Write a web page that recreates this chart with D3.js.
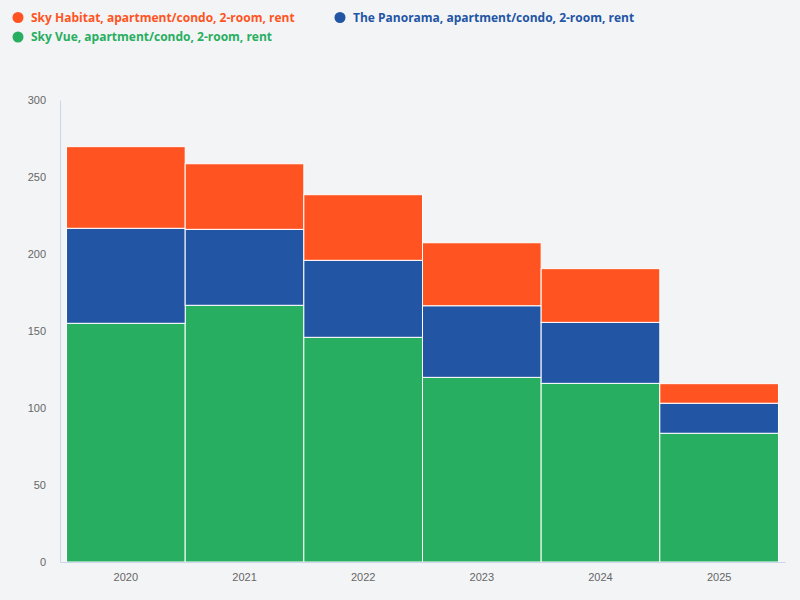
<!DOCTYPE html>
<html>
<head>
<meta charset="utf-8">
<script src="https://cdn.jsdelivr.net/npm/d3@7"></script>
<style>
  body { margin: 0; background: #f3f4f6; }
  svg { display: block; font-family: "Open Sans", "Noto Sans", sans-serif; }
</style>
</head>
<body>
<div id="chart"></div>
<script>
// Data
const years = ["2020", "2021", "2022", "2023", "2024", "2025"];
const skyVue = [155, 166.7, 145.9, 119.9, 116, 83.6];
const panorama = [61.7, 49.3, 50, 46.5, 39.6, 19.5];
const skyHabitat = [53, 42.6, 42.6, 40.9, 34.9, 12.7];
const yTicks = [0, 50, 100, 150, 200, 250, 300];

const seriesNames = [
  "Sky Vue, apartment/condo, 2-room, rent",
  "The Panorama, apartment/condo, 2-room, rent",
  "Sky Habitat, apartment/condo, 2-room, rent",
];
const colors = ["#28ae60", "#2255a4", "#ff5422"];

const table = years.map((y, i) => ({
  year: y,
  s0: skyVue[i],
  s1: panorama[i],
  s2: skyHabitat[i],
}));

// Dimensions
const dimensions = {
  width: 800,
  height: 600,
  margin: { top: 100, right: 15, bottom: 38, left: 60 },
};
dimensions.containerWidth =
  dimensions.width - dimensions.margin.left - dimensions.margin.right;
dimensions.containerHeight =
  dimensions.height - dimensions.margin.top - dimensions.margin.bottom;

const svg = d3
  .select("#chart")
  .append("svg")
  .attr("width", dimensions.width)
  .attr("height", dimensions.height);

svg.append("rect")
  .attr("width", dimensions.width)
  .attr("height", dimensions.height)
  .attr("fill", "#f3f4f6");

const container = svg
  .append("g")
  .attr("transform", `translate(${dimensions.margin.left}, ${dimensions.margin.top})`);

// Scales
const xScale = d3
  .scaleBand()
  .domain(years)
  .range([0, dimensions.containerWidth])
  .paddingInner(0)
  .paddingOuter(0.055);

const yScale = d3
  .scaleLinear()
  .domain([0, 300])
  .range([dimensions.containerHeight, 0]);

// Stack
const stacked = d3.stack().keys(["s0", "s1", "s2"])(table);

container
  .selectAll("g.series")
  .data(stacked)
  .join("g")
  .attr("class", "series")
  .attr("fill", (d, i) => colors[i])
  .selectAll("rect")
  .data((d) => d)
  .join("rect")
  .attr("x", (d) => xScale(d.data.year))
  .attr("width", xScale.bandwidth())
  .attr("y", (d) => yScale(d[1]))
  .attr("height", (d) => yScale(d[0]) - yScale(d[1]))
  .attr("stroke", "#ffffff")
  .attr("stroke-width", 1);

// Axes
const xAxis = d3.axisBottom(xScale).tickSize(0).tickPadding(11);
const yAxis = d3.axisLeft(yScale).tickValues(yTicks).tickSize(0).tickPadding(14);

const xAxisG = container
  .append("g")
  .attr("transform", `translate(0, ${dimensions.containerHeight})`)
  .call(xAxis);
xAxisG.select(".domain").attr("stroke", "#ccd6eb");
xAxisG.selectAll(".tick text")
  .attr("fill", "#666666")
  .style("font-size", "11px");

const yAxisG = container.append("g").call(yAxis);
yAxisG.select(".domain").attr("stroke", "#ccd6eb");
yAxisG.selectAll(".tick text")
  .attr("fill", "#666666")
  .style("font-size", "11px");

// Legend
const legendPos = [
  { x: 18, y: 37 },
  { x: 340, y: 17.5 },
  { x: 18, y: 17.5 },
];
const legend = svg
  .append("g")
  .selectAll("g")
  .data(seriesNames)
  .join("g")
  .attr("transform", (d, i) => `translate(${legendPos[i].x}, ${legendPos[i].y})`);

legend.append("circle")
  .attr("r", 5.5)
  .attr("fill", (d, i) => colors[i]);

legend.append("text")
  .attr("x", 13)
  .attr("dy", "0.35em")
  .attr("fill", (d, i) => colors[i])
  .style("font-size", "12px")
  .style("font-weight", "bold")
  .text((d) => d);
</script>
</body>
</html>
